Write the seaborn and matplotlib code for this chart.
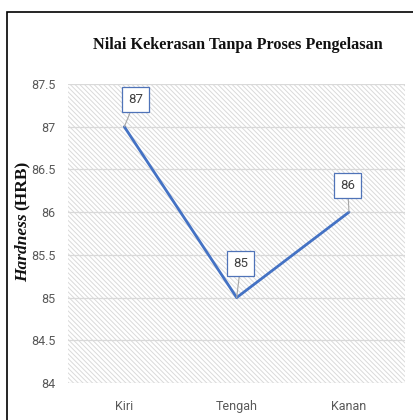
import matplotlib
matplotlib.use("Agg")
import matplotlib.pyplot as plt
from matplotlib.patches import Rectangle
import seaborn as sns
import pandas as pd

# Hardness values at three positions without welding
positions = ["Kiri", "Tengah", "Kanan"]
hardness = [87, 85, 86]
y_ticks = [84, 84.5, 85, 85.5, 86, 86.5, 87, 87.5]
y_tick_labels = ["84", "84.5", "85", "85.5", "86", "86.5", "87", "87.5"]

df = pd.DataFrame({"pos": positions, "hrb": hardness})
df["idx"] = range(len(positions))

sns.set_theme(style="white")
plt.rcParams["hatch.color"] = "#DADADA"
plt.rcParams["hatch.linewidth"] = 0.7

TICK_FONT = ["Roboto", "DejaVu Sans"]

fig = plt.figure(figsize=(4.13, 4.20), dpi=100)
ax = fig.add_axes([0.165, 0.088, 0.816, 0.712])

# hatched plot-area background
bg = Rectangle((0, 0), 1, 1, transform=ax.transAxes, facecolor="white",
               edgecolor="#DADADA", hatch="\\" * 7, linewidth=0, zorder=0)
ax.add_patch(bg)

sns.lineplot(data=df, x="idx", y="hrb", ax=ax, color="#4472C4",
             linewidth=2.0, zorder=3)

ax.set_xlim(-0.5, len(positions) - 0.5)
ax.set_ylim(84, 87.5)
ax.set_yticks(y_ticks)
ax.set_yticklabels(y_tick_labels)
ax.set_xticks(df["idx"])
ax.set_xticklabels(positions)
ax.tick_params(axis="both", length=0, labelsize=9, labelcolor="#595959")
ax.tick_params(axis="y", pad=9)
ax.tick_params(axis="x", pad=12)
for lab in ax.get_xticklabels() + ax.get_yticklabels():
    lab.set_fontfamily(TICK_FONT)
ax.set_xlabel("")
ax.set_ylabel("")
for s in ax.spines.values():
    s.set_visible(False)
for v in y_ticks:
    ax.axhline(v, color="#D9D9D9", linewidth=0.9, zorder=1)

# value labels with leader lines
offsets = [(8, 19.5), (3, 24.5), (-1, 19)]
for i, (v, off) in enumerate(zip(hardness, offsets)):
    ax.annotate(str(v), xy=(i, v), xytext=off, textcoords="offset points",
                ha="center", va="center", fontsize=9.5, color="#404040",
                family=TICK_FONT,
                bbox=dict(boxstyle="square,pad=0.45", fc="white",
                          ec="#4F73B8", lw=0.9),
                arrowprops=dict(arrowstyle="-", color="#A6A6A6", lw=0.8,
                                shrinkA=0, shrinkB=0),
                zorder=4)

fig.text(0.575, 0.893, "Nilai Kekerasan Tanpa Proses Pengelasan",
         ha="center", va="center", fontsize=11.7, fontweight="bold",
         family="Liberation Serif", color="#111111")

# y-axis title: italic "Hardness" followed by upright "(HRB)"
yl_x, yl_y = 23 / 413, 1 - 212 / 420
fig.text(yl_x, yl_y - 0.004, "Hardness", rotation=90, rotation_mode="anchor",
         ha="right", va="center", fontsize=12.5, fontweight="bold",
         fontstyle="italic", family="Liberation Serif", color="#111111")
fig.text(yl_x, yl_y + 0.004, "(HRB)", rotation=90, rotation_mode="anchor",
         ha="left", va="center", fontsize=12.5, fontweight="bold",
         family="Liberation Serif", color="#111111")

# frame line along left and top edges
frame = Rectangle((0.017, -0.1), 1.2, 0.9714 + 0.1, transform=fig.transFigure,
                  fill=False, edgecolor="black", linewidth=1.2)
fig.add_artist(frame)

fig.savefig("out.png", dpi=100)
